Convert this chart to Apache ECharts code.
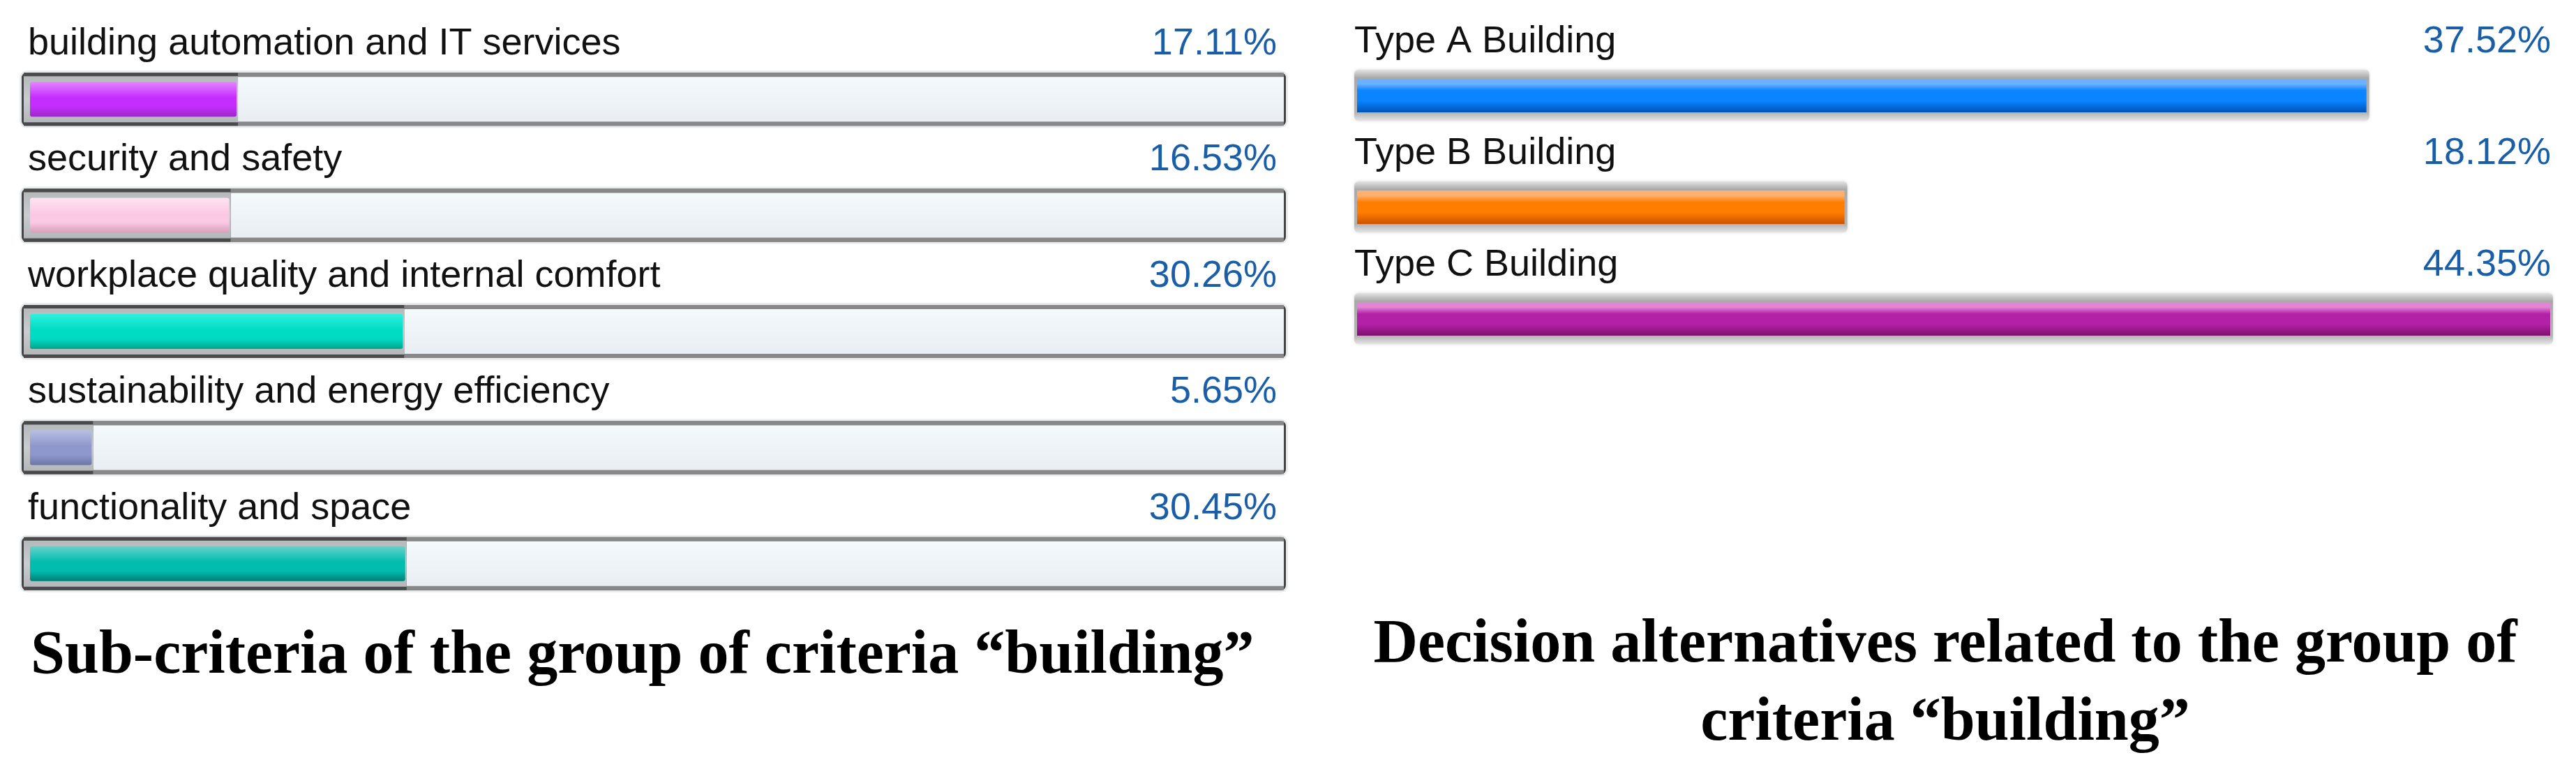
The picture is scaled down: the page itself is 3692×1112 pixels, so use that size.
<!DOCTYPE html>
<html>
<head>
<meta charset="utf-8">
<script src="https://cdn.jsdelivr.net/npm/echarts@6/dist/echarts.min.js"></script>
<style>
html,body{margin:0;padding:0;background:#fff;}
#chart{width:3692px;height:1112px;}
</style>
</head>
<body>
<div id="chart"></div>
<script>
// ---- data ----
const subCriteria = [
  'building automation and IT services',
  'security and safety',
  'workplace quality and internal comfort',
  'sustainability and energy efficiency',
  'functionality and space'
];
const subWeights = [17.11, 16.53, 30.26, 5.65, 30.45];

const alternatives = ['Type A Building', 'Type B Building', 'Type C Building'];
const altWeights = [37.52, 18.12, 44.35];

const captionLeft = 'Sub-criteria of the group of criteria \u201cbuilding\u201d';
const captionRightLines = ['Decision alternatives related to the group of', 'criteria \u201cbuilding\u201d'];

// ---- styles ----
const subColors = [
  ['#e486ff', '#c52dff', '#9c28c6'],
  ['#ffe3f2', '#fcc9e4', '#d69fba'],
  ['#2ff0dc', '#00dcc4', '#00a58c'],
  ['#b7bfe4', '#8f98cc', '#6c76a6'],
  ['#66d2ca', '#00bdb0', '#007e76']
];
const altColors = [
  ['#6cb2ff', '#0a84ff', '#0053b8'],
  ['#ffb070', '#ff7e00', '#cc5200'],
  ['#e285d4', '#b322a6', '#7e0f6f']
];
const labelFont = '54px "Liberation Sans", Arial, sans-serif';
const pctColor = '#1a5ea8';

function vgrad(c) {
  return new echarts.graphic.LinearGradient(0, 0, 0, 1, [
    {offset: 0, color: c[0]},
    {offset: 0.45, color: c[1]},
    {offset: 0.7, color: c[1]},
    {offset: 1, color: c[2]}
  ]);
}

function renderLeft(params, api) {
  const i = api.value(1);
  const v = api.value(0);
  const p0 = api.coord([0, i]);
  const x0 = p0[0], yc = p0[1];
  const x100 = api.coord([100, i])[0];
  const xv = api.coord([v, i])[0];
  const h = 76, top = yc - h / 2;
  const W = x100 - x0;
  const c = subColors[i];
  return {
    type: 'group',
    children: [
      {type: 'rect', shape: {x: x0 - 3, y: top - 3, width: W + 6, height: h + 6, r: 10}, style: {fill: '#e8ecef'}},
      {type: 'rect', shape: {x: x0, y: top, width: W, height: h, r: 7}, style: {fill: '#454545'}},
      {type: 'rect', shape: {x: x0 + 3, y: top, width: W - 6, height: h}, style: {fill: '#888888'}},
      {type: 'rect', shape: {x: x0 + 3, y: top + 6, width: W - 6, height: h - 12},
        style: {fill: new echarts.graphic.LinearGradient(0, 0, 0, 1, [
          {offset: 0, color: '#f4f9fc'}, {offset: 1, color: '#e8eef2'}])}},
      {type: 'rect', shape: {x: x0 + 3, y: top, width: xv - x0 - 3, height: h}, style: {fill: '#4a4a4a'}},
      {type: 'rect', shape: {x: x0 + 3, y: top + 5, width: xv - x0 - 3, height: h - 10},
        style: {fill: new echarts.graphic.LinearGradient(0, 0, 0, 1, [
          {offset: 0, color: '#b5b9bb'}, {offset: 0.5, color: '#c9cdcf'}, {offset: 1, color: '#b3b7b9'}])}},
      {type: 'rect', shape: {x: x0 + 12, y: top + 13, width: xv - x0 - 14, height: 50, r: 3},
        style: {fill: vgrad(c)}},
      {type: 'text', style: {text: subCriteria[i], x: x0 + 9, y: yc - 79, font: labelFont,
        fill: '#111', align: 'left', verticalAlign: 'middle'}},
      {type: 'text', style: {text: v.toFixed(2) + '%', x: x100 - 13, y: yc - 79, font: labelFont,
        fill: pctColor, align: 'right', verticalAlign: 'middle'}}
    ]
  };
}

function renderRight(params, api) {
  const i = api.value(1);
  const v = api.value(0);
  const p0 = api.coord([0, i]);
  const x0 = p0[0], yc = p0[1];
  const xv = api.coord([v, i])[0];
  const xmax = api.coord([Math.max.apply(null, altWeights), i])[0];
  const c = altColors[i];
  return {
    type: 'group',
    children: [
      {type: 'rect', shape: {x: x0 - 4, y: yc - 37, width: xv - x0 + 8, height: 73, r: 6},
        style: {fill: new echarts.graphic.LinearGradient(0, 0, 0, 1, [
          {offset: 0, color: '#e2e2e2'}, {offset: 0.16, color: '#a9a9a9'},
          {offset: 0.5, color: '#b0b0b0'},
          {offset: 0.84, color: '#b3b3b3'}, {offset: 1, color: '#e4e4e4'}]),
          shadowBlur: 4, shadowColor: 'rgba(0,0,0,0.15)'}},
      {type: 'rect', shape: {x: x0, y: yc - 24, width: xv - x0, height: 48},
        style: {fill: new echarts.graphic.LinearGradient(0, 0, 0, 1, [
          {offset: 0, color: c[0]}, {offset: 0.15, color: c[0]}, {offset: 0.35, color: c[1]},
          {offset: 0.65, color: c[1]}, {offset: 1, color: c[2]}])}},
      {type: 'text', style: {text: alternatives[i], x: x0 - 4, y: yc - 77, font: labelFont,
        fill: '#111', align: 'left', verticalAlign: 'middle'}},
      {type: 'text', style: {text: v.toFixed(2) + '%', x: xmax + 1, y: yc - 77, font: labelFont,
        fill: pctColor, align: 'right', verticalAlign: 'middle'}}
    ]
  };
}

const chart = echarts.init(document.getElementById('chart'), null, {renderer: 'canvas'});
const captionFont = 'bold 88px "Liberation Serif", "Times New Roman", serif';
chart.setOption({
  backgroundColor: '#ffffff',
  animation: false,
  grid: [
    {left: 31, top: 59, width: 1812, height: 832},
    {left: 1945, top: 57, width: 1710, height: 480}
  ],
  xAxis: [
    {type: 'value', gridIndex: 0, min: 0, max: 100, show: false},
    {type: 'value', gridIndex: 1, min: 0, max: 'dataMax', show: false}
  ],
  yAxis: [
    {type: 'category', gridIndex: 0, data: subCriteria, inverse: true, show: false},
    {type: 'category', gridIndex: 1, data: alternatives, inverse: true, show: false}
  ],
  series: [
    {type: 'custom', xAxisIndex: 0, yAxisIndex: 0, renderItem: renderLeft,
      encode: {x: 0, y: 1}, data: subWeights.map((v, i) => [v, i])},
    {type: 'custom', xAxisIndex: 1, yAxisIndex: 1, renderItem: renderRight,
      encode: {x: 0, y: 1}, data: altWeights.map((v, i) => [v, i])}
  ],
  graphic: [
    {type: 'text', x: 44, y: 941, style: {text: captionLeft, font: captionFont, fill: '#000',
      align: 'left', verticalAlign: 'middle'}},
    {type: 'text', x: 2788, y: 925, style: {text: captionRightLines[0], font: captionFont, fill: '#000',
      align: 'center', verticalAlign: 'middle'}},
    {type: 'text', x: 2788, y: 1037, style: {text: captionRightLines[1], font: captionFont, fill: '#000',
      align: 'center', verticalAlign: 'middle'}}
  ]
});
</script>
</body>
</html>
